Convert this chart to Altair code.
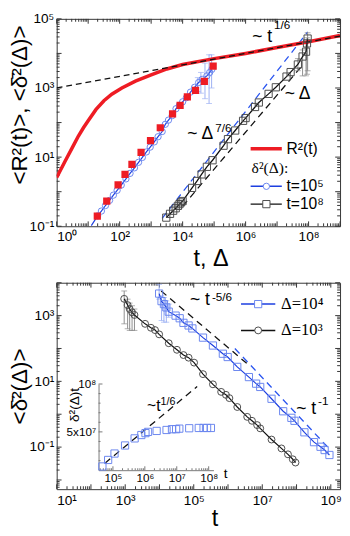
import altair as alt
import pandas as pd

# ---------------------------------------------------------------- styling
RED = "#ee1c24"
BLUE_LINE = "#1d3fe0"
BLUE_DASH = "#2a55f0"
BLUE_MARK = "#6a86ef"
BLUE_ERR = "#9cb0f3"
BLACK = "#111111"
DARK_MARK = "#4a4a4a"
GRAY_ERR = "#8c8c8c"
TICK = "#333333"
SANS = "Liberation Sans"
SERIF = "Liberation Serif"

W = 291
H_TOP = 213
H_BOT = 212

# ---------------------------------------------------------------- data
# every series value below is a log10 reading

# top panel: <R^2(t)>
R2_LOGT = [0.0, 0.25, 0.5, 0.69, 0.85, 1.0, 1.25, 1.5, 1.75, 2.07, 2.5, 3.0,
           3.5, 4.0, 5.0, 6.0, 7.0, 8.0, 9.0]
R2_LOGY = [0.41, 0.85, 1.28, 1.61, 1.85, 2.05, 2.38, 2.63, 2.82, 3.0, 3.2, 3.38,
           3.55, 3.68, 3.85, 4.0, 4.17, 4.34, 4.52]
# ~ t^(1/6) guide
SIXTH_LOGT = [0.0, 9.0]
SIXTH_LOGY = [3.0, 4.5]

# EB-MSD at t = 1e5 (open circles)
C5_LOGT = [1.3, 1.42, 1.55, 1.68, 1.8, 1.92, 2.05, 2.2, 2.33, 2.47, 2.6, 2.72,
           2.85, 2.97, 3.1, 3.22, 3.35, 3.45, 3.55, 3.67, 3.79, 3.9, 4.0, 4.12,
           4.25, 4.38, 4.51, 4.62, 4.77, 4.86, 4.93]
C5_LOGY = [-0.7, -0.56, -0.4, -0.25, -0.1, 0.04, 0.19, 0.37, 0.53, 0.69, 0.85, 0.99,
           1.15, 1.29, 1.44, 1.59, 1.74, 1.95, 2.07, 2.2, 2.4, 2.5, 2.6, 2.72,
           2.88, 3.02, 3.16, 3.25, 3.35, 3.45, 3.54]
C5_LINE_START_LOGT = [1.1]
C5_LINE_START_LOGY = [-0.98]
C5_ERR_LOGT = [4.48, 4.58, 4.71, 4.84, 4.92]
C5_ERR_LO = [2.9, 2.85, 2.69, 2.55, 3.0]
C5_ERR_HI = [3.3, 3.45, 3.72, 3.96, 3.96]

# red filled squares
RS_LOGT = [1.29, 1.59, 1.95, 2.17, 2.39, 2.68, 2.98, 3.29, 3.68, 3.92, 4.15, 4.41, 4.69, 4.97]
RS_LOGY = [-0.71, -0.27, 0.2, 0.5, 0.79, 1.14, 1.48, 1.85, 2.25, 2.5, 2.74, 2.93, 3.19, 3.63]

# EB-MSD at t = 1e8 (open squares)
S8_LOGT = [3.48, 3.6, 3.7, 3.78, 3.85, 3.9, 3.95, 4.0, 4.3, 4.46, 4.6, 4.77, 4.95,
           5.3, 5.44, 5.67, 5.92, 6.0, 6.3, 6.42, 6.73, 6.96, 7.3, 7.43, 7.66,
           7.81, 7.92, 7.95, 7.97]
S8_LOGY = [-0.75, -0.64, -0.55, -0.48, -0.41, -0.36, -0.31, -0.27, 0.11, 0.31, 0.5,
           0.72, 0.91, 1.33, 1.52, 1.77, 2.05, 2.13, 2.45, 2.58, 2.83, 3.02, 3.33,
           3.46, 3.68, 3.91, 4.05, 4.29, 4.43]
S8_ERR_LOGT = [7.66, 7.81, 7.92, 7.95, 7.97]
S8_ERR_LO = [3.5, 3.35, 3.35, 3.4, 3.5]
S8_ERR_HI = [3.85, 4.1, 4.3, 4.45, 4.6]

# guides ~Delta^(7/6) (blue dashed) and ~Delta (black dashed)
G76_LOGT = [3.35, 7.97]
G76_LOGY = [-0.77, 4.62]
G1_LOGT = [4.0, 7.78]
G1_LOGY = [-0.42, 3.63]

# bottom panel: EB-MSD versus t
SQ4_LOGT = [3.99, 4.06, 4.13, 4.2, 4.27, 4.47, 4.59, 4.7, 4.85, 4.96, 5.27, 5.56,
            5.85, 5.99, 6.27, 6.61, 6.82, 6.94, 7.27, 7.61, 7.85, 7.94, 8.23,
            8.51, 8.7, 8.82, 8.96]
SQ4_LOGY = [3.67, 3.44, 3.35, 3.25, 3.12, 3.0, 2.92, 2.78, 2.7, 2.61, 2.33, 2.09,
            1.84, 1.74, 1.44, 1.13, 0.93, 0.83, 0.47, 0.09, -0.11, -0.2, -0.55,
            -0.85, -0.99, -1.09, -1.24]
SQ4_ERR_LOGT = [3.99, 4.06, 4.13, 4.2, 4.27]
SQ4_ERR_LO = [3.5, 2.85, 2.8, 2.8, 2.95]
SQ4_ERR_HI = [3.95, 3.6, 3.55, 3.45, 3.35]

CI3_LOGT = [2.97, 3.07, 3.13, 3.2, 3.27, 3.58, 3.75, 3.87, 3.99, 4.27, 4.51, 4.7,
            4.85, 5.01, 5.27, 5.56, 5.8, 5.94, 6.04, 6.27, 6.56, 6.7, 6.85, 6.94,
            7.27, 7.56, 7.75, 7.89, 7.97]
CI3_LOGY = [3.51, 3.32, 3.2, 3.1, 3.02, 2.75, 2.63, 2.56, 2.43, 2.16, 1.96, 1.8,
            1.72, 1.57, 1.22, 0.91, 0.68, 0.59, 0.49, 0.22, -0.08, -0.2, -0.33,
            -0.43, -0.77, -1.04, -1.22, -1.37, -1.47]
CI3_ERR_LOGT = [2.97, 3.07, 3.13, 3.2, 3.27]
CI3_ERR_LO = [2.75, 2.6, 2.55, 2.55, 2.55]
CI3_ERR_HI = [3.75, 3.5, 3.38, 3.3, 3.2]

G56_LOGT = [4.05, 6.6]
G56_LOGY = [3.75, 1.5]
GM1_LOGT = [6.2, 9.0]
GM1_LOGY = [2.0, -1.1]

# inset: EB-MSD * t (linear values), log10 t
IN_LOGT = [4.67, 4.85, 5.05, 5.38, 5.68, 5.89, 6.02, 6.1, 6.37, 6.68, 6.85, 6.98,
           7.08, 7.39, 7.69, 7.84, 7.95, 8.07]
IN_VAL = [1.39e7, 2.07e7, 2.74e7, 3.58e7, 4.32e7, 4.67e7, 4.87e7, 5.0e7, 5.1e7,
          5.2e7, 5.28e7, 5.28e7, 5.34e7, 5.38e7, 5.41e7, 5.41e7, 5.41e7, 5.41e7]
IN_G_LOGT = [4.75, 7.64]
IN_G_VAL = [1.73e7, 9.74e7]


def P(vals):
    return [10.0 ** v for v in vals]


SUP = ("'10' + (round(log(datum.value)/LN10) < 0 ? '\u207b' : '') + "
       "substring('\u2070\u00b9\u00b2\u00b3\u2074\u2075\u2076\u2077\u2078\u2079', "
       "abs(round(log(datum.value)/LN10)), abs(round(log(datum.value)/LN10)) + 1)")


def minors(lo, hi, dmin, dmax):
    out = []
    for k in range(lo, hi + 1):
        for m in range(2, 10):
            v = m * 10.0 ** k
            if dmin < v < dmax * 0.999:
                out.append(v)
    return out


def make_xy(xscale, yscale, xaxis, yaxis, xtitle, ytitle):
    def X(f="x"):
        return alt.X(f, type="quantitative", scale=xscale, axis=xaxis, title=xtitle)

    def Y(f="y"):
        return alt.Y(f, type="quantitative", scale=yscale, axis=yaxis, title=ytitle)
    return X, Y


def tick_rules(X, Y, xmaj, xmin, ymaj, ymin, w, h, color=TICK, big=5, small=3):
    out = []
    for vals, L in ((xmaj, big), (xmin, small)):
        d = pd.DataFrame({"x": vals})
        out.append(alt.Chart(d).mark_rule(color=color, strokeWidth=1).encode(
            x=X(), y=alt.value(h), y2=alt.value(h - L)))
        out.append(alt.Chart(d).mark_rule(color=color, strokeWidth=1).encode(
            x=X(), y=alt.value(0), y2=alt.value(L)))
    for vals, L in ((ymaj, big), (ymin, small)):
        d = pd.DataFrame({"y": vals})
        out.append(alt.Chart(d).mark_rule(color=color, strokeWidth=1).encode(
            y=Y(), x=alt.value(0), x2=alt.value(L)))
        out.append(alt.Chart(d).mark_rule(color=color, strokeWidth=1).encode(
            y=Y(), x=alt.value(w - L), x2=alt.value(w)))
    return out


def line(X, Y, xs, ys, color, width=1.2, dash=None):
    d = pd.DataFrame({"x": xs, "y": ys})
    kw = dict(color=color, strokeWidth=width, clip=True)
    if dash:
        kw["strokeDash"] = dash
    return alt.Chart(d).mark_line(**kw).encode(x=X(), y=Y())


def points(X, Y, xs, ys, shape, color, size, filled=False, fill=None):
    d = pd.DataFrame({"x": xs, "y": ys})
    kw = dict(shape=shape, size=size, strokeWidth=1, opacity=1, clip=True)
    if fill is not None:
        kw.update(filled=True, fill=fill, stroke=color, fillOpacity=1)
    elif filled:
        kw.update(filled=True, color=color)
    else:
        kw.update(filled=False, color=color)
    return alt.Chart(d).mark_point(**kw).encode(x=X(), y=Y())


def errbars(X, Y, xs, lo, hi, color):
    d = pd.DataFrame({"x": xs, "y": lo, "y2": hi})
    caps = pd.DataFrame({"x": xs + xs, "y": lo + hi})
    return [
        alt.Chart(d).mark_rule(color=color, strokeWidth=1).encode(x=X(), y=Y(), y2=alt.Y2("y2")),
        alt.Chart(caps).mark_tick(color=color, orient="horizontal", size=6, thickness=1).encode(x=X(), y=Y()),
    ]


def text(X, Y, xs, ys, labels, size, font=SANS, align="left", baseline="alphabetic"):
    d = pd.DataFrame({"x": xs, "y": ys, "t": labels})
    return alt.Chart(d).mark_text(align=align, baseline=baseline, font=font, fontSize=size,
                                  color="black").encode(x=X(), y=Y(), text="t:N")


def main_axis(**kw):
    base = dict(ticks=False, domain=False, grid=False, labelFont=SANS, labelFontSize=14,
                labelColor="black", titleFont=SANS, titleFontSize=23,
                titleFontWeight="normal", titleColor="black", labelExpr=SUP)
    base.update(kw)
    return alt.Axis(**base)


# ================================================================ top panel
tx_scale = alt.Scale(type="log", domain=[1, 1e9], nice=False)
ty_scale = alt.Scale(type="log", domain=[0.1, 1e5], nice=False)
tx_axis = main_axis(values=[1, 1e2, 1e4, 1e6, 1e8], labelPadding=4, titleX=158, titleY=40,
                    titleBaseline="alphabetic", titleFontSize=24)
ty_axis = main_axis(values=[0.1, 10, 1e3, 1e5], labelPadding=3, titleX=-38, titleY=88,
                    titleBaseline="middle", titleAngle=270)
TX, TY = make_xy(tx_scale, ty_scale, tx_axis, ty_axis, "t,  \u0394",
                 "<R\u00b2(t)>, <\u03b4\u0304\u00b2(\u0394)>")

top_layers = tick_rules(TX, TY, [10.0 ** k for k in range(0, 10)], minors(0, 8, 1, 1e9),
                        [10.0 ** k for k in range(-1, 6)], minors(-1, 4, 0.1, 1e5), W, H_TOP)
top_layers += [
    line(TX, TY, P(G76_LOGT), P(G76_LOGY), BLUE_DASH, 1.3, [7, 5]),
    line(TX, TY, P(G1_LOGT), P(G1_LOGY), BLACK, 1.3, [7, 5]),
    *errbars(TX, TY, P(C5_ERR_LOGT), P(C5_ERR_LO), P(C5_ERR_HI), BLUE_ERR),
    *errbars(TX, TY, P(S8_ERR_LOGT), P(S8_ERR_LO), P(S8_ERR_HI), GRAY_ERR),
    line(TX, TY, P(C5_LINE_START_LOGT + C5_LOGT), P(C5_LINE_START_LOGY + C5_LOGY), BLUE_LINE, 1.2),
    points(TX, TY, P(C5_LOGT), P(C5_LOGY), "circle", BLUE_MARK, 42),
    line(TX, TY, P(R2_LOGT), P(R2_LOGY), RED, 3.6),
    line(TX, TY, P(SIXTH_LOGT), P(SIXTH_LOGY), BLACK, 1.3, [6, 4]),
    points(TX, TY, P(RS_LOGT), P(RS_LOGY), "square", RED, 55, filled=True),
    line(TX, TY, P(S8_LOGT), P(S8_LOGY), BLACK, 1.3),
    points(TX, TY, P(S8_LOGT), P(S8_LOGY), "square", DARK_MARK, 55),
    # annotations
    text(TX, TY, P([6.21, 4.15, 7.24]), P([4.34, 1.52, 2.69]),
         ["~ t", "~ \u0394", "~ \u0394"], 18),
    text(TX, TY, P([6.9, 5.04]), P([4.72, 1.72]), ["1/6", "7/6"], 12),
    # legend
    line(TX, TY, P([6.16, 7.15]), P([1.245, 1.245]), RED, 3.6),
    line(TX, TY, P([6.16, 7.15]), P([0.155, 0.155]), BLUE_LINE, 1.5),
    line(TX, TY, P([6.16, 7.15]), P([-0.36, -0.36]), BLACK, 1.5),
    points(TX, TY, P([6.66]), P([0.155]), "circle", BLUE_MARK, 42, fill="white"),
    points(TX, TY, P([6.66]), P([-0.36]), "square", DARK_MARK, 55, fill="white"),
    text(TX, TY, P([7.3, 7.3, 7.3]), P([1.245, 0.155, -0.36]),
         ["R\u00b2(t)", "t=10\u2075", "t=10\u2078"], 16, baseline="middle"),
    text(TX, TY, P([6.19]), P([0.68]), ["\u03b4\u00b2(\u0394):"], 16, font=SERIF, baseline="middle"),
]
top = alt.layer(*top_layers).properties(width=W, height=H_TOP)

# ================================================================ bottom panel
bx_scale = alt.Scale(type="log", domain=[10, 10 ** 9.27], nice=False)
by_scale = alt.Scale(type="log", domain=[10 ** -2.28, 1e4], nice=False)
bx_axis = main_axis(values=[10, 1e3, 1e5, 1e7, 1e9], labelPadding=5, titleX=162, titleY=37,
                    titleBaseline="alphabetic", titleFontSize=24)
by_axis = main_axis(values=[0.1, 10, 1e3], labelPadding=3, titleX=-38, titleY=106,
                    titleBaseline="middle", titleAngle=270)
BX, BY = make_xy(bx_scale, by_scale, bx_axis, by_axis, "t", "<\u03b4\u0304\u00b2(\u0394)>")

bot_layers = tick_rules(BX, BY, [10.0 ** k for k in range(1, 10)], minors(1, 9, 10, 10 ** 9.27),
                        [10.0 ** k for k in range(-2, 5)], minors(-3, 3, 10 ** -2.28, 1e4), W, H_BOT)
bot_layers += [
    line(BX, BY, P(G56_LOGT), P(G56_LOGY), BLACK, 1.3, [7, 5]),
    line(BX, BY, P(GM1_LOGT), P(GM1_LOGY), BLUE_DASH, 1.3, [7, 5]),
    *errbars(BX, BY, P(CI3_ERR_LOGT), P(CI3_ERR_LO), P(CI3_ERR_HI), GRAY_ERR),
    *errbars(BX, BY, P(SQ4_ERR_LOGT), P(SQ4_ERR_LO), P(SQ4_ERR_HI), BLUE_ERR),
    line(BX, BY, P(CI3_LOGT), P(CI3_LOGY), BLACK, 1.2),
    points(BX, BY, P(CI3_LOGT), P(CI3_LOGY), "circle", DARK_MARK, 50),
    line(BX, BY, P(SQ4_LOGT), P(SQ4_LOGY), BLUE_LINE, 1.2),
    points(BX, BY, P(SQ4_LOGT), P(SQ4_LOGY), "square", BLUE_MARK, 55),
    text(BX, BY, P([4.89, 7.99]), P([3.33, 0.0]), ["~ t", "~ t"], 18),
    text(BX, BY, P([5.53, 8.63]), P([3.44, 0.27]), ["-5/6", "-1"], 12),
    # legend
    line(BX, BY, P([6.38, 7.38]), P([3.35, 3.35]), BLUE_LINE, 1.5),
    line(BX, BY, P([6.38, 7.38]), P([2.55, 2.55]), BLACK, 1.5),
    points(BX, BY, P([6.88]), P([3.35]), "square", BLUE_MARK, 55, fill="white"),
    points(BX, BY, P([6.88]), P([2.55]), "circle", DARK_MARK, 50, fill="white"),
    text(BX, BY, P([7.55, 7.55]), P([3.35, 2.55]), ["\u0394=10\u2074", "\u0394=10\u00b3"], 17,
         font=SERIF, baseline="middle"),
]

# inset (independent scales placed inside the bottom panel)
IX0, IX1, IY0, IY1 = 43, 161, 192.5, 104
ix_scale = alt.Scale(type="log", domain=[10 ** 4.55, 10 ** 8.15], nice=False, range=[IX0, IX1])
iy_scale = alt.Scale(type="linear", domain=[1e7, 1e8], nice=False, zero=False, range=[IY0, IY1])


def inset_axis(**kw):
    base = dict(ticks=False, domain=True, domainColor="#777777", grid=False, labelFont=SANS,
                labelFontSize=12, labelColor="black", titleFont=SANS, titleFontSize=14,
                titleFontWeight="normal", titleColor="black")
    base.update(kw)
    return alt.Axis(**base)


ix_axis = inset_axis(orient="bottom", offset=IY0 - H_BOT, values=[1e5, 1e6, 1e7, 1e8],
                     labelExpr=SUP, labelPadding=3, titleX=173, titleY=4, titleBaseline="middle")
iy_axis = inset_axis(orient="left", offset=-IX0, values=[5e7, 1e8],
                     labelExpr="datum.value == 1e8 ? '10\u2078' : '5x10\u2077'",
                     labelPadding=3, titleX=-25, titleY=125, titleBaseline="middle",
                     titleAngle=270)
IX, IY = make_xy(ix_scale, iy_scale, ix_axis, iy_axis, "t", "\u03b4\u00b2(\u0394)t")

inset_layers = []
for vals, L in (([1e5, 1e6, 1e7, 1e8], 4), (minors(4, 7, 10 ** 4.55, 10 ** 8.15), 2)):
    d = pd.DataFrame({"x": vals})
    inset_layers.append(alt.Chart(d).mark_rule(color="#777777", strokeWidth=1).encode(
        x=IX(), y=alt.value(IY0), y2=alt.value(IY0 - L)))
for vals, L in (([5e7, 1e8], 4), ([2e7, 3e7, 4e7, 6e7, 7e7, 8e7, 9e7], 2)):
    d = pd.DataFrame({"y": vals})
    inset_layers.append(alt.Chart(d).mark_rule(color="#777777", strokeWidth=1).encode(
        y=IY(), x=alt.value(IX0), x2=alt.value(IX0 + L)))
inset_layers += [
    line(IX, IY, P(IN_G_LOGT), IN_G_VAL, BLACK, 1.3, [7, 5]),
    points(IX, IY, P(IN_LOGT), IN_VAL, "square", BLUE_MARK, 55),
    text(IX, IY, P([6.07]), [7.23e7], ["~t"], 16),
    text(IX, IY, P([6.49]), [7.84e7], ["1/6"], 11),
]

bottom = alt.layer(alt.layer(*bot_layers), alt.layer(*inset_layers)).resolve_scale(
    x="independent", y="independent").properties(width=W, height=H_BOT)

chart = alt.vconcat(top, bottom, spacing=58, bounds="flush").properties(
    padding={"left": 0, "top": -4, "right": 0, "bottom": 0}
).configure_view(stroke="#333333", strokeWidth=1)

chart.save("out.html", embed_options={"renderer": "svg", "actions": False})
